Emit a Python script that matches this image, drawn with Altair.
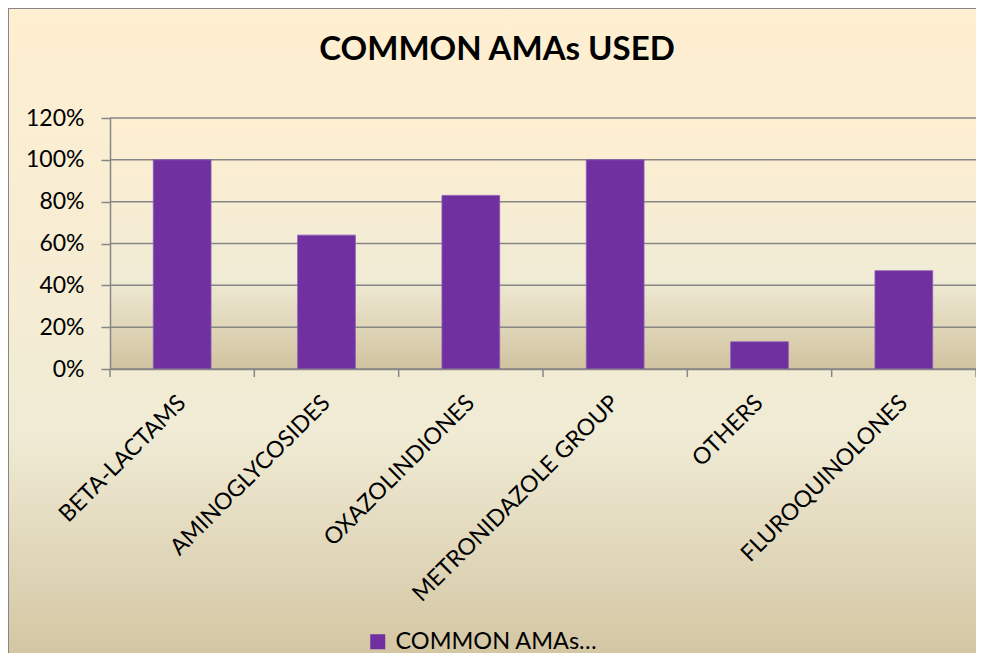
import altair as alt
import pandas as pd

categories = ["BETA-LACTAMS", "AMINOGLYCOSIDES", "OXAZOLINDIONES",
              "METRONIDAZOLE GROUP", "OTHERS", "FLUROQUINOLONES"]
values = [1.00, 0.64, 0.83, 1.00, 0.13, 0.47]
series_name = "COMMON AMAs\u2026"
y_ticks = [0, 0.2, 0.4, 0.6, 0.8, 1.0, 1.2]
title_text = "COMMON AMAs USED"

W, H = 866, 251
PL, PT, PR, PB = 102, 110, 0, 284
FONT = "Lato"
GRAY = "#868686"

parchment = alt.LinearGradient(
    gradient="linear", x1=0, x2=0, y1=0, y2=1,
    stops=[alt.GradientStop(color="#FFEFD1", offset=0),
           alt.GradientStop(color="#F0EBD5", offset=0.64),
           alt.GradientStop(color="#D1C39F", offset=1)])

df = pd.DataFrame({"cat": categories, "val": values, "series": series_name})
one = pd.DataFrame({"a": [0]})
grid_df = pd.DataFrame({"val": y_ticks})
last_df = pd.DataFrame({"cat": [categories[-1]]})

xscale = alt.Scale(domain=categories, paddingInner=0, paddingOuter=0)
yscale = alt.Scale(domain=[0, 1.2], nice=False)

x_axis = alt.Axis(labelAngle=-45, labelAlign="right", labelBaseline="middle",
                  labelFont=FONT, labelFontSize=23, labelColor="#000000",
                  labelPadding=30, ticks=False, domainColor=GRAY,
                  domainWidth=1.5, zindex=1, labelLimit=400, grid=False)
y_axis = alt.Axis(values=y_ticks, format=".0%", grid=False,
                  labelFont=FONT, labelFontSize=23, labelColor="#000000",
                  tickColor=GRAY, tickWidth=1.5, tickSize=9,
                  domainColor=GRAY, domainWidth=1.5, labelPadding=17,
                  zindex=1)

outer_bg = alt.Chart(one).mark_rect(fill=parchment, stroke=GRAY, strokeWidth=2).encode(
    x=alt.value(-PL), x2=alt.value(W + PR + 20), y=alt.value(-PT), y2=alt.value(H + PB + 20))

plot_bg = alt.Chart(one).mark_rect(fill=parchment).encode(
    x=alt.value(0), x2=alt.value(W), y=alt.value(0), y2=alt.value(H))

grid = alt.Chart(grid_df).mark_rule(color=GRAY, strokeWidth=1.5).encode(
    y=alt.Y("val:Q", scale=yscale, title=None, axis=y_axis),
    x=alt.value(0), x2=alt.value(W))

ticks = alt.Chart(df).mark_rule(color=GRAY, strokeWidth=1.5).encode(
    x=alt.X("cat:N", scale=xscale, sort=categories, bandPosition=0, title=None, axis=x_axis),
    y=alt.value(H), y2=alt.value(H + 8))

ticks_end = alt.Chart(last_df).mark_rule(color=GRAY, strokeWidth=1.5).encode(
    x=alt.X("cat:N", scale=xscale, sort=categories, bandPosition=1, title=None, axis=x_axis),
    y=alt.value(H), y2=alt.value(H + 8))

bars = alt.Chart(df).mark_bar(width=alt.RelativeBandSize(0.4), stroke="#8A5CB8", strokeWidth=0.8).encode(
    x=alt.X("cat:N", scale=xscale, sort=categories, title=None, axis=x_axis),
    y=alt.Y("val:Q", scale=yscale, title=None, axis=y_axis),
    color=alt.Color("series:N", scale=alt.Scale(range=["#7030A0"]),
                    legend=alt.Legend(orient="none", legendX=256, legendY=512,
                                      title=None, symbolType="square", symbolSize=225,
                                      symbolStrokeWidth=0, labelOffset=6,
                                      labelFont=FONT, labelFontSize=23.5,
                                      labelColor="#000000", labelLimit=400)))

chart = alt.layer(outer_bg, plot_bg, grid, ticks, ticks_end, bars).properties(
    width=W, height=H,
    padding={"left": PL, "top": PT, "right": PR, "bottom": PB},
    autosize=alt.AutoSizeParams(type="none"),
    title=alt.TitleParams(title_text, font=FONT, fontSize=33, fontWeight="bold",
                          color="#000000", anchor="middle", dx=-46, offset=-60),
).configure_view(stroke=None).configure(background="white")

chart.save("out.html", embed_options={"renderer": "svg", "actions": False})
